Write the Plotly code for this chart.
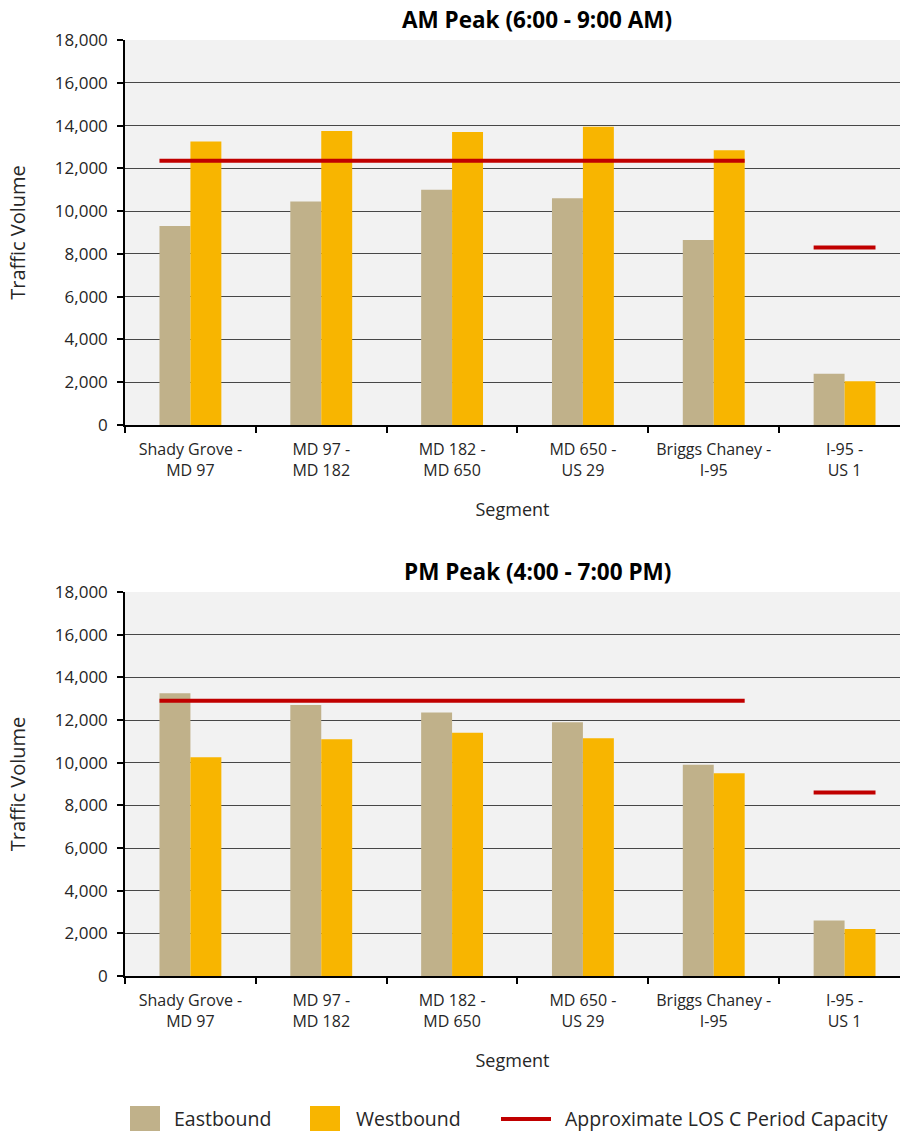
import plotly.graph_objects as go
from plotly.subplots import make_subplots

segments = ["Shady Grove -<br>MD 97", "MD 97 -<br>MD 182", "MD 182 -<br>MD 650",
            "MD 650 -<br>US 29", "Briggs Chaney -<br>I-95", "I-95 -<br>US 1"]
am_eastbound = [9300, 10450, 11000, 10600, 8650, 2400]
am_westbound = [13250, 13750, 13700, 13950, 12850, 2050]
am_capacity = [12350, 12350, 12350, 12350, 12350, 8300]
pm_eastbound = [13250, 12700, 12350, 11900, 9900, 2600]
pm_westbound = [10250, 11100, 11400, 11150, 9500, 2200]
pm_capacity = [12900, 12900, 12900, 12900, 12900, 8600]
y_ticks = list(range(0, 18001, 2000))
legend_names = ["Eastbound", "Westbound", "Approximate LOS C Period Capacity"]

EB_COLOR = "#C0B18A"
WB_COLOR = "#F8B500"
CAP_COLOR = "#C00000"
TEXT_COLOR = "#262626"
FONT = "Open Sans"
BARGAP = 0.527
HALF = (1 - BARGAP) / 2

W, H = 900, 1131
L, R, T, B = 125, 0, 40, 976
PW, PH = W - L - R, B - T


def px_x(p):
    return (p - L) / PW


def px_y(p):
    return (B - p) / PH


fig = make_subplots(rows=2, cols=1)
xs = list(range(len(segments)))


def runs(vals):
    out = []
    start = 0
    for i in range(1, len(vals) + 1):
        if i == len(vals) or vals[i] != vals[start]:
            out.append((start, i - 1, vals[start]))
            start = i
    return out


for row, (eb, wb, cap) in enumerate([(am_eastbound, am_westbound, am_capacity),
                                      (pm_eastbound, pm_westbound, pm_capacity)], start=1):
    fig.add_trace(go.Bar(x=xs, y=eb, name=legend_names[0], marker_color=EB_COLOR,
                         marker_line_width=0, showlegend=False),
                  row=row, col=1)
    fig.add_trace(go.Bar(x=xs, y=wb, name=legend_names[1], marker_color=WB_COLOR,
                         marker_line_width=0, showlegend=False),
                  row=row, col=1)
    for s, e, v in runs(cap):
        fig.add_trace(go.Scatter(x=[xs[s] - HALF, xs[e] + HALF], y=[v, v], mode="lines",
                                 line=dict(color=CAP_COLOR, width=4),
                                 name=legend_names[2], showlegend=False),
                      row=row, col=1)

# manual legend (swatches + labels)
shapes = [
    dict(type="rect", xref="paper", yref="paper", x0=px_x(130), x1=px_x(160),
         y0=px_y(1131), y1=px_y(1106), fillcolor=EB_COLOR, line_width=0),
    dict(type="rect", xref="paper", yref="paper", x0=px_x(310), x1=px_x(340),
         y0=px_y(1131), y1=px_y(1106), fillcolor=WB_COLOR, line_width=0),
    dict(type="line", xref="paper", yref="paper", x0=px_x(501), x1=px_x(551),
         y0=px_y(1119), y1=px_y(1119), line=dict(color=CAP_COLOR, width=4)),
]
legend_ann = [
    dict(text=legend_names[0], x=px_x(172), y=px_y(1118)),
    dict(text=legend_names[1], x=px_x(354), y=px_y(1118)),
    dict(text=legend_names[2], x=px_x(563), y=px_y(1118)),
]
annotations = []
for a in legend_ann:
    annotations.append(dict(a, xref="paper", yref="paper", showarrow=False,
                            xanchor="left", yanchor="middle",
                            font=dict(size=19.5, color=TEXT_COLOR)))
for txt, yc in [("<b>AM Peak (6:00 - 9:00 AM)</b>", 19), ("<b>PM Peak (4:00 - 7:00 PM)</b>", 571)]:
    annotations.append(dict(text=txt, x=px_x(537), y=px_y(yc), xref="paper", yref="paper",
                            showarrow=False, xanchor="center", yanchor="middle",
                            font=dict(size=22.5, color="#000000")))

fig.update_layout(
    width=W, height=H,
    margin=dict(l=L, r=R, t=T, b=H - B),
    paper_bgcolor="white", plot_bgcolor="#F2F2F2",
    barmode="group", bargap=BARGAP, bargroupgap=0,
    font=dict(family=FONT, size=14, color=TEXT_COLOR),
    showlegend=False,
    yaxis=dict(domain=[px_y(425), 1.0]),
    yaxis2=dict(domain=[0.0, px_y(592)]),
    shapes=shapes,
    annotations=annotations,
)

for r in (1, 2):
    fig.update_xaxes(
        row=r, col=1, range=[-0.5, 5.5 - 10 / 131],
        tickvals=xs, ticktext=segments, ticks="outside", ticklen=9,
        tickcolor="rgba(0,0,0,0)", showgrid=False,
        showline=True, linecolor="#000000", linewidth=1.5,
        tickfont=dict(size=16, color=TEXT_COLOR),
        minor=dict(tickvals=[i - 0.5 for i in range(7)], ticks="outside", ticklen=6,
                   tickcolor="#000000", tickwidth=1.5, showgrid=False),
        title=dict(text="Segment", font=dict(size=18, color=TEXT_COLOR), standoff=24),
        zeroline=False,
    )
    fig.update_yaxes(
        row=r, col=1, range=[0, 18000], tickvals=y_ticks, tickformat=",",
        showgrid=True, gridcolor="#474747", gridwidth=1,
        showline=True, linecolor="#000000", linewidth=1.5,
        ticks="outside", ticklen=6, tickcolor="#000000", tickwidth=1.5,
        ticklabelstandoff=6,
        tickfont=dict(size=17, color=TEXT_COLOR),
        title=dict(text="Traffic Volume", font=dict(size=20, color=TEXT_COLOR), standoff=24),
        zeroline=False,
    )

fig.write_html("out.html", config={"displayModeBar": False},
               post_script="document.body.style.margin='0';document.body.style.overflow='hidden';")
